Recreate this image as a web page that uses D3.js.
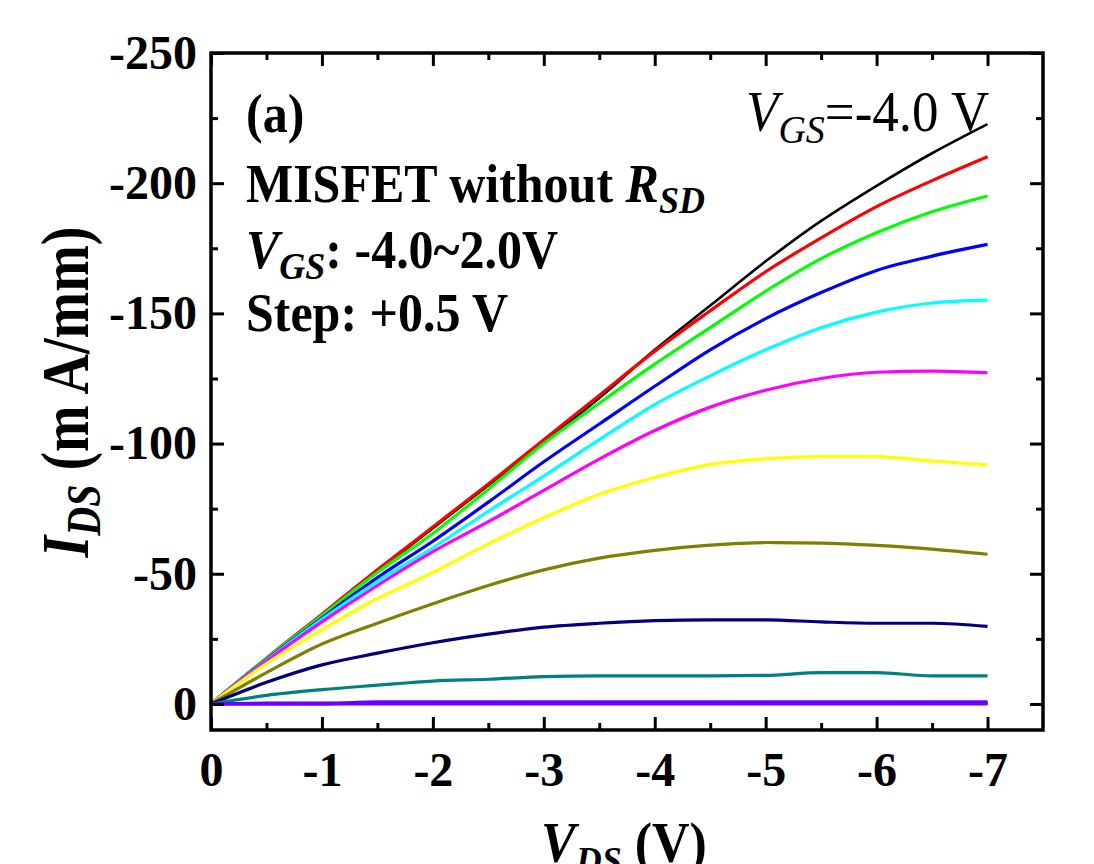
<!DOCTYPE html>
<html>
<head>
<meta charset="utf-8">
<script src="https://cdn.jsdelivr.net/npm/d3@7/dist/d3.min.js"></script>
<style>
body { margin: 0; background: #fff; }
text { font-family: "Liberation Serif", "Times New Roman", serif; }
</style>
</head>
<body>
<script>
// drain voltage sweep (V)
var vds = [0, -0.5, -1, -1.5, -2, -2.5, -3, -3.5, -4, -4.5, -5, -5.5, -6, -6.5, -7];

// gate voltages, one curve each
var vgs = ["-4.0", "-3.5", "-3.0", "-2.5", "-2.0", "-1.5", "-1.0", "-0.5", "0.0", "0.5", "1.0", "1.5", "2.0"];
var colors = ["#000000", "#ff0000", "#00ff00", "#0000ff", "#00ffff", "#ff00ff", "#ffff00",
              "#808000", "#000080", "#008080", "#8000ff", "#4000ff", "#7000ff"];

// I_DS (mA/mm)
var ids_m40 = [0, -17.5, -34, -51, -67.5, -84, -100.5, -117.5, -136, -153, -170, -185.5, -199, -211.5, -222.7];
var ids_m35 = [0, -17.6, -34.5, -51.5, -68, -84.5, -101.5, -118.5, -135.5, -151, -166, -179, -191, -201, -210.2];
var ids_m30 = [0, -17.5, -34, -50.5, -65.5, -82.5, -100, -115.5, -130.5, -144.5, -158.5, -171, -181, -189, -195.1];
var ids_m25 = [0, -17, -33, -48.5, -62.5, -77.5, -93, -107.5, -122, -136, -148, -158, -166.5, -172, -176.5];
var ids_m20 = [0, -16.8, -32.5, -47, -60, -74, -87.5, -101.5, -115, -126, -136, -144.5, -150.5, -154, -155.1];
var ids_m15 = [0, -16.5, -31.5, -45.5, -58.5, -70, -82, -94, -105, -114, -120.5, -125, -127.4, -127.8, -127.2];
var ids_m10 = [0, -15.5, -28.5, -40.5, -50.5, -61.5, -71.5, -80.5, -87, -92, -94.2, -95, -95, -93.3, -91.8];
var ids_m05 = [0, -12, -23, -31, -38.5, -45.5, -51.5, -56, -59, -61, -62, -61.8, -60.9, -59.5, -57.5];
var ids_p00 = [0, -8.3, -15, -19.5, -23.5, -26.8, -29.5, -31, -32, -32.3, -32.3, -31.5, -31, -31, -29.8];
var ids_p05 = [0, -3.3, -5.5, -7.2, -8.8, -9.5, -10.5, -10.8, -10.8, -10.8, -11, -12, -12, -10.8, -10.8];
var ids_p10 = [0, 0, 0, -0.8, -0.8, -0.8, -0.8, -0.8, -0.8, -0.8, -0.8, -0.8, -0.8, -0.8, -0.8];
var ids_p15 = [0, -0.3, -0.3, -0.3, -0.3, -0.3, -0.3, -0.3, -0.3, -0.3, -0.3, -0.3, -0.3, -0.3, -0.3];
var ids_p20 = [0, 0, 0, 0, 0, 0, 0, 0, 0, 0, 0, 0, 0, 0, 0];

var curves = [ids_m40, ids_m35, ids_m30, ids_m25, ids_m20, ids_m15, ids_m10,
              ids_m05, ids_p00, ids_p05, ids_p10, ids_p15, ids_p20];

var xMajor = [0, -1, -2, -3, -4, -5, -6, -7];
var xMinor = [-0.5, -1.5, -2.5, -3.5, -4.5, -5.5, -6.5];
var yMajor = [0, -50, -100, -150, -200, -250];
var yMinor = [-25, -75, -125, -175, -225];

var W = 1094, H = 864;
var pL = 211, pR = 1043, pT = 53, pB = 730;

var svg = d3.select('body').append('svg')
  .attr('width', W)
  .attr('height', H);

var x = d3.scaleLinear().domain([0, -7.5]).range([pL, pR]);
var y = d3.scaleLinear().domain([10, -250]).range([pB, pT]);

var fmt = function(d){ return String(d); };

// curves
var line = d3.line()
  .x(function(d){ return x(d[0]); })
  .y(function(d){ return y(d[1]); })
  .curve(d3.curveMonotoneX);

var plot = svg.append('g');
curves.forEach(function(c, i){
  var pts = vds.map(function(v, j){ return [v, c[j]]; });
  plot.append('path')
    .datum(pts)
    .attr('fill', 'none')
    .attr('stroke', colors[i])
    .attr('stroke-width', i == 0 ? 2.6 : 3.2)
    .attr('stroke-linejoin', 'round')
    .attr('d', line);
});

// axes, ticks inward
function styleAxis(g){
  g.select('.domain').remove();
  g.selectAll('line').attr('stroke', '#000').attr('stroke-width', 3);
  g.selectAll('text')
    .attr('font-size', 48)
    .attr('font-weight', 'bold')
    .attr('fill', '#000');
}

svg.append('g').attr('transform', 'translate(0,' + pB + ')')
  .call(d3.axisBottom(x).tickValues(xMajor).tickFormat(fmt).tickSize(-13).tickPadding(22))
  .call(styleAxis);
svg.append('g').attr('transform', 'translate(0,' + pB + ')')
  .call(d3.axisBottom(x).tickValues(xMinor).tickFormat('').tickSize(-7))
  .call(styleAxis);
svg.append('g').attr('transform', 'translate(0,' + pT + ')')
  .call(d3.axisTop(x).tickValues(xMajor).tickFormat('').tickSize(-13))
  .call(styleAxis);
svg.append('g').attr('transform', 'translate(0,' + pT + ')')
  .call(d3.axisTop(x).tickValues(xMinor).tickFormat('').tickSize(-7))
  .call(styleAxis);

svg.append('g').attr('transform', 'translate(' + pL + ',0)')
  .call(d3.axisLeft(y).tickValues(yMajor).tickFormat(fmt).tickSize(-13).tickPadding(14))
  .call(styleAxis);
svg.append('g').attr('transform', 'translate(' + pL + ',0)')
  .call(d3.axisLeft(y).tickValues(yMinor).tickFormat('').tickSize(-7))
  .call(styleAxis);
svg.append('g').attr('transform', 'translate(' + pR + ',0)')
  .call(d3.axisRight(y).tickValues(yMajor).tickFormat('').tickSize(-13))
  .call(styleAxis);
svg.append('g').attr('transform', 'translate(' + pR + ',0)')
  .call(d3.axisRight(y).tickValues(yMinor).tickFormat('').tickSize(-7))
  .call(styleAxis);

// frame
svg.append('rect')
  .attr('x', pL).attr('y', pT)
  .attr('width', pR - pL).attr('height', pB - pT)
  .attr('fill', 'none').attr('stroke', '#000').attr('stroke-width', 3.5);

// annotations (glyphs a bit taller than wide in the original)
function label(px, py, size){
  return svg.append('text')
    .attr('transform', 'translate(' + px + ',' + py + ') scale(1,1.08)')
    .attr('font-size', size).attr('fill', '#000');
}

label(246, 132, 50).attr('font-weight', 'bold').text('(a)');

var t2 = label(246, 202, 50).attr('font-weight', 'bold');
t2.append('tspan').text('MISFET without ');
t2.append('tspan').attr('font-style', 'italic').text('R');
t2.append('tspan').attr('font-style', 'italic').attr('font-size', 36).attr('dy', 10).text('SD');

var t3 = label(246, 268, 50).attr('font-weight', 'bold');
t3.append('tspan').attr('font-style', 'italic').text('V');
t3.append('tspan').attr('font-style', 'italic').attr('font-size', 36).attr('dy', 10).text('GS');
t3.append('tspan').attr('dy', -10).text(': -4.0~2.0V');

label(246, 331, 50).attr('font-weight', 'bold').text('Step: +0.5 V');

var t5 = label(746, 131, 53);
t5.append('tspan').attr('font-style', 'italic').text('V');
t5.append('tspan').attr('font-style', 'italic').attr('font-size', 38).attr('dy', 11).text('GS');
t5.append('tspan').attr('dy', -11).text('=-' + vgs[0].slice(1) + ' V');

// axis titles
var yl = svg.append('text')
  .attr('transform', 'translate(88,392) rotate(-90) scale(1,1.22)')
  .attr('text-anchor', 'middle')
  .attr('font-size', 56).attr('font-weight', 'bold').attr('fill', '#000');
yl.append('tspan').attr('font-style', 'italic').text('I');
yl.append('tspan').attr('font-style', 'italic').attr('font-size', 40).attr('dy', 10).text('DS');
yl.append('tspan').attr('dy', -10).text(' (m A/mm)');

var xl = svg.append('text')
  .attr('transform', 'translate(624,862) scale(1,1.08)')
  .attr('text-anchor', 'middle')
  .attr('font-size', 52).attr('font-weight', 'bold').attr('fill', '#000');
xl.append('tspan').attr('font-style', 'italic').text('V');
xl.append('tspan').attr('font-style', 'italic').attr('font-size', 36).attr('dy', 10).text('DS');
xl.append('tspan').attr('dy', -10).text(' (V)');
</script>
</body>
</html>
